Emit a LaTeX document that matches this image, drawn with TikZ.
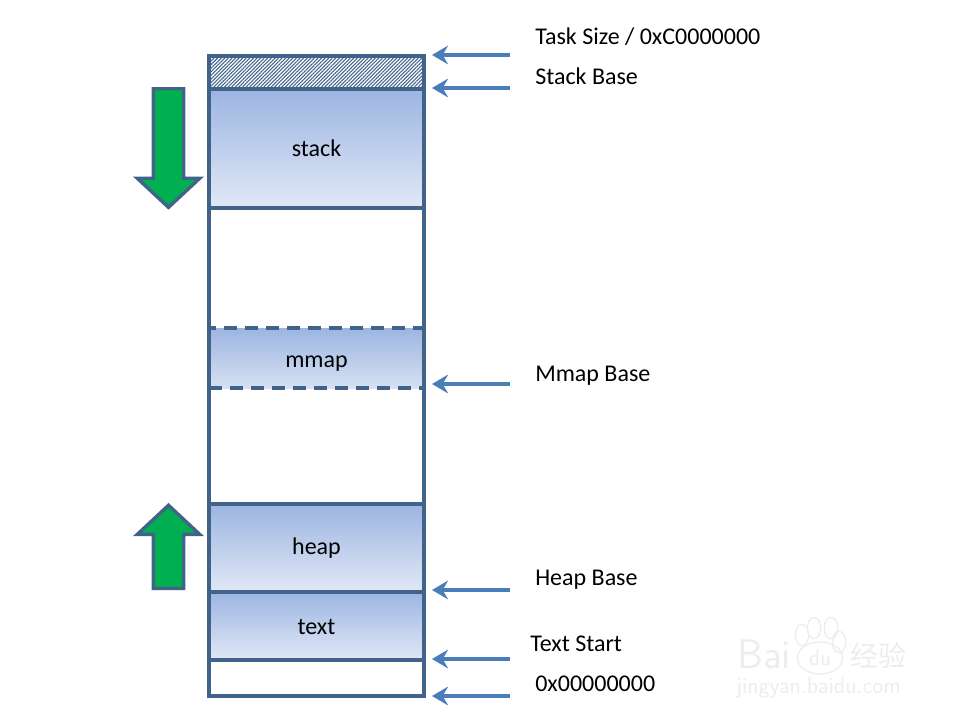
\documentclass[tikz,border=0pt]{standalone}
\usepackage{xcolor}
\usepackage{fontspec}
\setmainfont{Carlito}
\newfontfamily\cjkfont{Noto Sans CJK SC}
\usepackage{tikz}
\usetikzlibrary{positioning,shapes.arrows,shapes.geometric,patterns.meta,arrows.meta}
\definecolor{framecol}{HTML}{41638A}
\definecolor{arrowcol}{HTML}{4A7EBB}
\definecolor{growcol}{HTML}{00B050}
\definecolor{shadetop}{HTML}{9CB5E1}
\definecolor{shadebot}{HTML}{E1E8F6}
\definecolor{markcol}{HTML}{EDEDED}

\begin{document}
\begin{tikzpicture}[x=0.75pt,y=-0.75pt,>={Stealth[length=12pt,width=14pt,inset=4pt]},font=\fontsize{18}{21}\selectfont,node distance=0pt]
  \tikzstyle{seg}=[rectangle,draw=framecol,line width=2.5pt,minimum width=161.25pt,inner sep=0pt,outer sep=0pt,text height=14pt,text depth=1.3pt]
  \tikzstyle{hole}=[seg,draw=none]
  \tikzstyle{used}=[seg,top color=shadetop,bottom color=shadebot]
  \tikzstyle{addr}=[anchor=west,inner sep=0pt]
  \tikzstyle{ptr}=[->,draw=arrowcol,line width=2.5pt,shorten >=6pt]
  \tikzstyle{growarrow}=[single arrow,draw=framecol,fill=growcol,line width=2.5pt,inner xsep=0pt,inner ysep=10.15pt,single arrow head extend=12pt,single arrow tip angle=94,outer sep=0pt]

  \useasboundingbox (0,0) rectangle (960,720);

  % address space
  \node[seg,minimum height=24.75pt,pattern={Lines[angle=45,distance=1.9pt,line width=0.8pt]},pattern color=framecol] (guard) at (316.5,72.5) {};
  \node[used,minimum height=89.25pt] (stack) [below=of guard] {stack};
  \node[hole,minimum height=90pt] (gap1) [below=of stack] {};
  \node[seg,minimum height=45pt,top color=shadetop,bottom color=shadebot!85!shadetop,dashed,dash pattern=on 9.5pt off 6.25pt,text depth=0.5pt] (mmap) [below=of gap1] {mmap};
  \node[hole,minimum height=87pt] (gap2) [below=of mmap] {};
  \node[used,minimum height=66pt,text depth=4pt] (heap) [below=of gap2] {heap};
  \node[used,minimum height=51pt] (text) [below=of heap] {text};
  \node[seg,minimum height=27pt] (low) [below=of text] {};
  \draw[framecol,line width=2.5pt] (guard.north west) rectangle (low.south east);

  % growth direction
  \node[growarrow,minimum height=89pt,rotate=-90] (down) at (168.5,141) {};
  \node[growarrow,minimum height=62.5pt,rotate=90] (up) at (168.5,554) {};

  % pointers
  \coordinate (ptask) at (510,55);
  \coordinate (pstack) at (510,88);
  \coordinate (pmmap) at (510,384);
  \coordinate (pheap) at (510,590);
  \coordinate (ptext) at (510,659);
  \coordinate (pzero) at (510,696);
  \draw[ptr] (ptask) -- (ptask -| guard.east);
  \draw[ptr] (pstack) -- (pstack -| stack.east);
  \draw[ptr] (pmmap) -- (pmmap -| mmap.east);
  \draw[ptr] (pheap) -- (pheap -| heap.east);
  \draw[ptr] (ptext) -- (ptext -| text.east);
  \draw[ptr] (pzero) -- (pzero -| low.east);

  \node[addr] (ltask) at (535,37) {Task Size / 0xC0000000};
  \node[addr] (lstack) at (535,76) {Stack Base};
  \node[addr] (lmmap) at (535,376) {Mmap Base};
  \node[addr] (lheap) at (535,580) {Heap Base};
  \node[addr] (ltext) at (530,644) {Text Start};
  \node[addr] (lzero) at (535,684) {0x00000000};

  % watermark
  \node[addr,text=markcol,font=\fontsize{31}{31}\selectfont\sffamily] (wbai) at (737,654) {Bai};
  \node[draw=markcol,line width=1pt,ellipse,minimum width=34pt,minimum height=24pt,inner sep=0pt,text=markcol,font=\fontsize{17}{17}\selectfont\sffamily] (wdu) at (820,658) {du};
  \node[addr,text=markcol,font=\fontsize{21}{21}\selectfont\cjkfont] (wjy) at (850,656) {经验};
  \node[addr,text=markcol,font=\fontsize{17.5}{18}\selectfont\sffamily] (wurl) at (736,688) {jingyan.baidu.com};
  \foreach \px/\py in {802/635,814/628,831/628,839/642}
    \draw[markcol,line width=1pt] (\px,\py) ellipse (5pt and 8pt);
\end{tikzpicture}
\end{document}
